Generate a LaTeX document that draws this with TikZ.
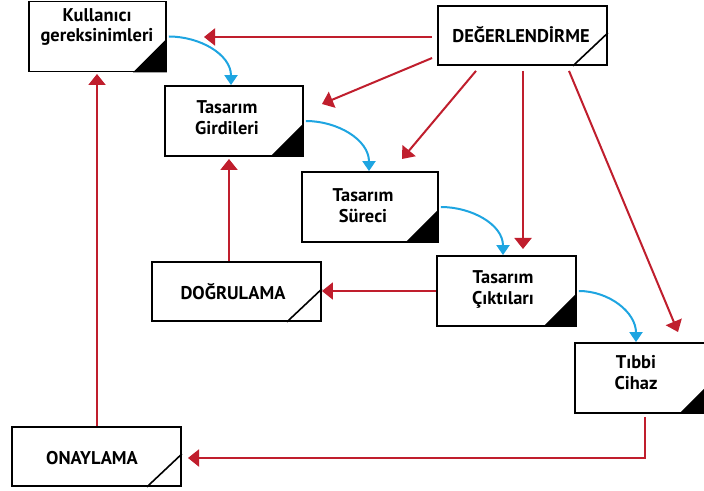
\documentclass[tikz,border=0pt]{standalone}
\usepackage{fontspec}
\setmainfont{PT Sans}
\usetikzlibrary{arrows.meta}
\definecolor{cred}{RGB}{192,30,45}
\definecolor{cblue}{RGB}{30,165,225}
\begin{document}
\begin{tikzpicture}[x=1bp,y=-1bp,
  boxa/.style={draw=black,line width=1.8bp,minimum width=137bp,minimum height=70bp,inner sep=0pt},
  boxb/.style={draw=black,line width=1.8bp,minimum width=169bp,minimum height=59bp,inner sep=0pt},
  lbl/.style={font=\bfseries\fontsize{18.5}{21}\selectfont,align=center,inner sep=0pt},
  redarr/.style={draw=cred,line width=2bp,-{Triangle[length=11bp,width=17bp]}},
  bluearr/.style={draw=cblue,line width=2bp,-{Triangle[length=10bp,width=13bp]}},
  diag/.style={line width=1.6bp}
]
\clip (0,0) rectangle (704,491);
\fill[white] (0,0) rectangle (704,491);

% boxes
\node[boxa] (kg) at (97.5,36.5) {};
\node[boxa,minimum width=138bp] (tg) at (234,121) {};
\node[boxb] (de) at (522.5,35.5) {};
\node[boxa,minimum width=136bp] (ts) at (370,207) {};
\node[boxb] (do) at (236.5,291.5) {};
\node[boxa,minimum width=139bp] (tc) at (506.5,291) {};
\node[boxa] (tb) at (643.5,378) {};
\node[boxb] (on) at (96.5,456.5) {};

% labels
\node[lbl] (kgt) at (97,27) {Kullanıcı\\gereksinimleri};
\node[lbl] (tgt) at (227,117.5) {Tasarım\\Girdileri};
\node[lbl] (det) at (521,35) {DEĞERLENDİRME};
\node[lbl] (tst) at (363,206) {Tasarım\\Süreci};
\node[lbl] (dot) at (233,292) {DOĞRULAMA};
\node[lbl] (tct) at (503,289.5) {Tasarım\\Çıktıları};
\node[lbl] (tbt) at (636,372.5) {Tıbbi\\Cihaz};
\node[lbl] (ont) at (92,458) {ONAYLAMA};

% corner marks
\foreach \n in {kg,tg,ts,tc,tb}{
  \fill (\n.south east) -- ++(-34,0) -- ++(34,-34) -- cycle;
}
\foreach \n in {de,do,on}{
  \draw[diag] ([xshift=-35bp]\n.south east) -- ([yshift=33bp]\n.south east);
}

% coordinates for arrow tips
\coordinate (t1) at (204,37);
\coordinate (t2) at (322,104);
\coordinate (t3) at (402,159);
\coordinate (t4) at (523,249);
\coordinate (t5) at (678,332);
\coordinate (t7) at (229,159);
\coordinate (t8) at (97,74);
\coordinate (c9) at (645,458);
\coordinate (t9) at (188,458);

% red arrows
\draw[redarr,shorten <=5bp] (de.west |- t1) -- (t1);
\draw[redarr] ([xshift=-5bp,yshift=-22.5bp]de.west) -- (t2);
\draw[redarr] ([xshift=-46.5bp,yshift=-5bp]de.south) -- (t3);
\draw[redarr,shorten <=5bp] (t4 |- de.south) -- (t4);
\draw[redarr] ([xshift=46.5bp,yshift=-5bp]de.south) -- (t5);
\draw[redarr] (tc.west) -- (tc.west -| do.east);
\draw[redarr] (t7 |- do.north) -- (t7);
\draw[redarr] (t8 |- on.north) -- (t8);
\draw[redarr,shorten <=3bp] (c9 |- tb.south) -- (c9) -- (t9);

% blue arrows
\draw[bluearr] ([xshift=2bp]kg.east) to[out=0,in=90] ([xshift=-3bp]tg.north);
\draw[bluearr] ([xshift=2bp]tg.east) to[out=0,in=90] ([xshift=-1bp]ts.north);
\draw[bluearr] ([xshift=2bp]ts.east) to[out=0,in=90] ([xshift=-3.5bp]tc.north);
\draw[bluearr] ([xshift=2bp]tc.east) to[out=0,in=90] ([xshift=-7.5bp]tb.north);
\end{tikzpicture}
\end{document}
